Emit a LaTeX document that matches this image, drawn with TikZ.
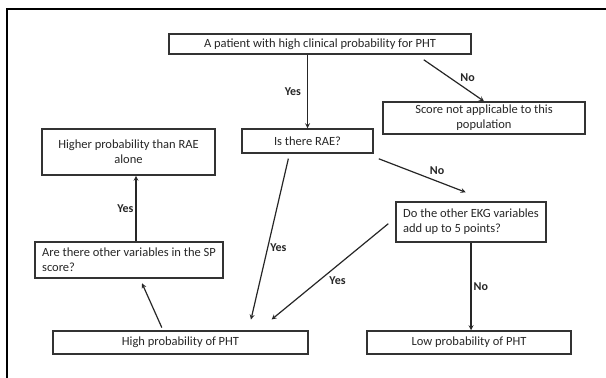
\documentclass[tikz,border=0pt]{standalone}
\usepackage{fontspec}
\setmainfont{Carlito}
\usepackage{tikz}
\usetikzlibrary{positioning}
\tikzset{%
  flow box/.style={
    rectangle,
    draw=black!80,
    line width=1.5pt,
    inner sep=2pt,
    text=black!85,
    font=\fontsize{12.5}{15}\selectfont,
    align=center
  },
  flow arrow/.style={
    ->,
    line width=1.2pt,
    draw=black!85
  },
  flow label/.style={
    font=\fontsize{12}{14}\selectfont\bfseries,
    text=black!85,
    inner sep=2pt
  },
}

\begin{document}
\begin{tikzpicture}[x=1pt, y=-1pt, >=stealth]

\useasboundingbox (0,0) rectangle (606,378);
\draw [line width=2pt] (7,378) -- (7,9) -- (606,9);

\node [flow box, minimum width=302pt, minimum height=20pt] (patient) at (320,44)
  {A patient with high clinical probability for PHT};
\node [flow box, minimum width=202pt, minimum height=32pt] (score) at (484,118)
  {Score not applicable to this\\population};
\node [flow box, minimum width=131pt, minimum height=24pt] (rae) at (307.5,141)
  {Is there RAE?};
\node [flow box, minimum width=173pt, minimum height=46pt] (higher) at (128.5,152)
  {Higher probability than RAE\\alone};
\node [flow box, minimum width=150pt, minimum height=40pt, align=left] (ekg) at (471,222)
  {Do the other EKG variables\\add up to 5 points?};
\node [flow box, minimum width=188pt, minimum height=36pt, align=left] (are) at (129,260)
  {Are there other variables in the SP\\score?};
\node [flow box, minimum width=255pt, minimum height=23pt] (high) at (180.5,342.5)
  {High probability of PHT};
\node [flow box, minimum width=204pt, minimum height=23pt] (low) at (469,342.5)
  {Low probability of PHT};

\draw [flow arrow] (patient.south -| rae.north) -- (rae.north)
  node [flow label, left, midway, xshift=-4pt] {Yes};
\draw [flow arrow] ([xshift=-48pt,yshift=-5pt]patient.south east) -- (score.north)
  node [flow label, right, midway, xshift=4pt, yshift=3pt] {No};

\draw [flow arrow, shorten <=5pt, shorten >=11pt] ([xshift=-18pt]rae.south) -- ([xshift=68pt]high.north)
  node [flow label, right, pos=0.53] {Yes};
\draw [flow arrow, shorten <=14pt, shorten >=25pt] ([xshift=-8pt]rae.south east) -- ([xshift=18pt]ekg.north)
  node [flow label, above right, midway] {No};

\draw [flow arrow, shorten <=9pt, shorten >=17pt] ([yshift=4pt]ekg.west) -- ([xshift=78pt]high.north)
  node [flow label, below right, midway] {Yes};
\draw [flow arrow] (ekg.south) -- (ekg.south |- low.north)
  node [flow label, right, midway] {No};

\draw [flow arrow, shorten <=3pt, shorten >=5pt] ([xshift=-17.5pt]high.north) -- ([xshift=11pt]are.south);
\draw [flow arrow] ([xshift=7pt]are.north) -- ([xshift=7pt]are.north |- higher.south)
  node [flow label, left, midway] {Yes};

\end{tikzpicture}
\end{document}
